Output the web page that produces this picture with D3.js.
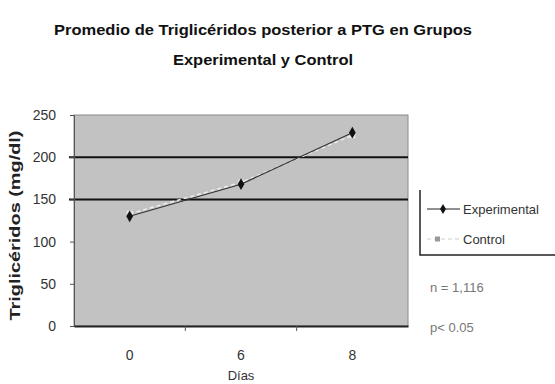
<!DOCTYPE html>
<html>
<head>
<meta charset="utf-8">
<script src="https://cdn.jsdelivr.net/npm/d3@7"></script>
<style>
	body { margin: 0; background: #fff; }
	text { font-family: "Liberation Sans", Arial, sans-serif; }
</style>
</head>
<body>
<svg id="chart" width="555" height="384"></svg>
<script>
// Chart data
const categories = ["0", "6", "8"]
const experimental = [130, 168, 229]
const control = [133, 170, 226]
const refLines = [150, 200]
const yTicks = [0, 50, 100, 150, 200, 250]
const titleLines = ["Promedio de Triglicéridos posterior a PTG en Grupos", "Experimental y Control"]
const notes = ["n = 1,116", "p< 0.05"]

const svg = d3.select("#chart")
const plot = { left: 74, right: 408, top: 115, bottom: 326 }

const x = d3.scaleBand()
	.domain(categories)
	.range([plot.left, plot.right])
const y = d3.scaleLinear()
	.domain([0, 250])
	.range([plot.bottom, plot.top])

// Title
svg.append("g")
	.selectAll("text")
	.data(titleLines)
	.join("text")
	.attr("x", 263)
	.attr("y", (d, i) => 35 + i * 30)
	.attr("text-anchor", "middle")
	.attr("font-size", 15)
	.attr("font-weight", "bold")
	.attr("fill", "#111")
	.attr("textLength", (d, i) => i ? 180 : 418)
	.attr("lengthAdjust", "spacingAndGlyphs")
	.text(d => d)

// Plot area
svg.append("rect")
	.attr("x", plot.left)
	.attr("y", plot.top)
	.attr("width", plot.right - plot.left)
	.attr("height", plot.bottom - plot.top)
	.attr("fill", "#c2c2c2")
	.attr("stroke", "#8a8a8a")
	.attr("stroke-width", 1)

// Reference lines
svg.append("g")
	.selectAll("line")
	.data(refLines)
	.join("line")
	.attr("x1", plot.left - 5)
	.attr("x2", plot.right)
	.attr("y1", d => y(d))
	.attr("y2", d => y(d))
	.attr("stroke", "#111")
	.attr("stroke-width", 2)

// Y axis
const yAxis = svg.append("g")
	.attr("transform", `translate(${plot.left}, 0)`)
	.call(d3.axisLeft(y).tickValues(yTicks).tickSize(4).tickPadding(14))
yAxis.select(".domain").attr("stroke", "#555")
yAxis.selectAll(".tick line").attr("stroke", "#555")
yAxis.selectAll("text")
	.attr("font-size", 14)
	.attr("fill", "#333")

// X axis
const xAxis = svg.append("g")
	.attr("transform", `translate(0, ${plot.bottom})`)
	.call(d3.axisBottom(x).tickSize(0).tickPadding(24))
xAxis.select(".domain").attr("stroke", "#222").attr("stroke-width", 2)
xAxis.selectAll("text")
	.attr("font-size", 14)
	.attr("fill", "#333")
svg.append("g")
	.selectAll("line")
	.data(categories.slice(1))
	.join("line")
	.attr("x1", d => x(d))
	.attr("x2", d => x(d))
	.attr("y1", plot.bottom)
	.attr("y2", plot.bottom + 5)
	.attr("stroke", "#555")

// Axis titles
svg.append("text")
	.attr("transform", `translate(20, ${(plot.top + plot.bottom) / 2 + 5}) rotate(-90)`)
	.attr("text-anchor", "middle")
	.attr("font-size", 15)
	.attr("font-weight", "bold")
	.attr("fill", "#222")
	.attr("textLength", 190)
	.attr("lengthAdjust", "spacingAndGlyphs")
	.text("Triglicéridos (mg/dl)")
svg.append("text")
	.attr("x", 241)
	.attr("y", 380)
	.attr("text-anchor", "middle")
	.attr("font-size", 13)
	.attr("fill", "#333")
	.text("Días")

// Series
const cx = d => x(d) + x.bandwidth() / 2
const line = d3.line()
	.x((d, i) => cx(categories[i]))
	.y(d => y(d))

svg.append("path")
	.datum(control)
	.attr("d", line)
	.attr("fill", "none")
	.attr("stroke", "#eee")
	.attr("stroke-width", 1.5)
	.attr("stroke-dasharray", "4,3")
svg.append("g")
	.selectAll("rect")
	.data(control)
	.join("rect")
	.attr("x", (d, i) => cx(categories[i]) - 3)
	.attr("y", d => y(d) - 3)
	.attr("width", 6)
	.attr("height", 6)
	.attr("fill", "#e6e6e6")

svg.append("path")
	.datum(experimental)
	.attr("d", line)
	.attr("fill", "none")
	.attr("stroke", "#333")
	.attr("stroke-width", 1.2)
svg.append("g")
	.selectAll("path")
	.data(experimental)
	.join("path")
	.attr("transform", (d, i) => `translate(${cx(categories[i])}, ${y(d)})`)
	.attr("d", d3.symbol(d3.symbolDiamond, 40))
	.attr("fill", "#111")

// Legend
const legend = svg.append("g").attr("transform", "translate(420, 190)")
legend.append("path")
	.attr("d", "M0,0 V65 H140")
	.attr("fill", "none")
	.attr("stroke", "#222")
	.attr("stroke-width", 1.5)
const items = [
	{ name: "Experimental", y: 19 },
	{ name: "Control", y: 49 },
]
legend.append("line")
	.attr("x1", 7).attr("x2", 40)
	.attr("y1", items[0].y).attr("y2", items[0].y)
	.attr("stroke", "#222")
legend.append("path")
	.attr("transform", `translate(23, ${items[0].y})`)
	.attr("d", d3.symbol(d3.symbolDiamond, 30))
	.attr("fill", "#111")
legend.append("line")
	.attr("x1", 7).attr("x2", 40)
	.attr("y1", items[1].y).attr("y2", items[1].y)
	.attr("stroke", "#ccc")
	.attr("stroke-dasharray", "4,3")
legend.append("rect")
	.attr("x", 15).attr("y", items[1].y - 2.5)
	.attr("width", 5).attr("height", 5)
	.attr("fill", "#999")
legend.selectAll("text.item")
	.data(items)
	.join("text")
	.attr("class", "item")
	.attr("x", 43)
	.attr("y", d => d.y + 5)
	.attr("font-size", 13)
	.attr("fill", "#333")
	.text(d => d.name)

// Notes
svg.append("g")
	.selectAll("text")
	.data(notes)
	.join("text")
	.attr("x", 430)
	.attr("y", (d, i) => 292 + i * 40)
	.attr("font-size", 13)
	.attr("fill", "#777")
	.text(d => d)
</script>
</body>
</html>
